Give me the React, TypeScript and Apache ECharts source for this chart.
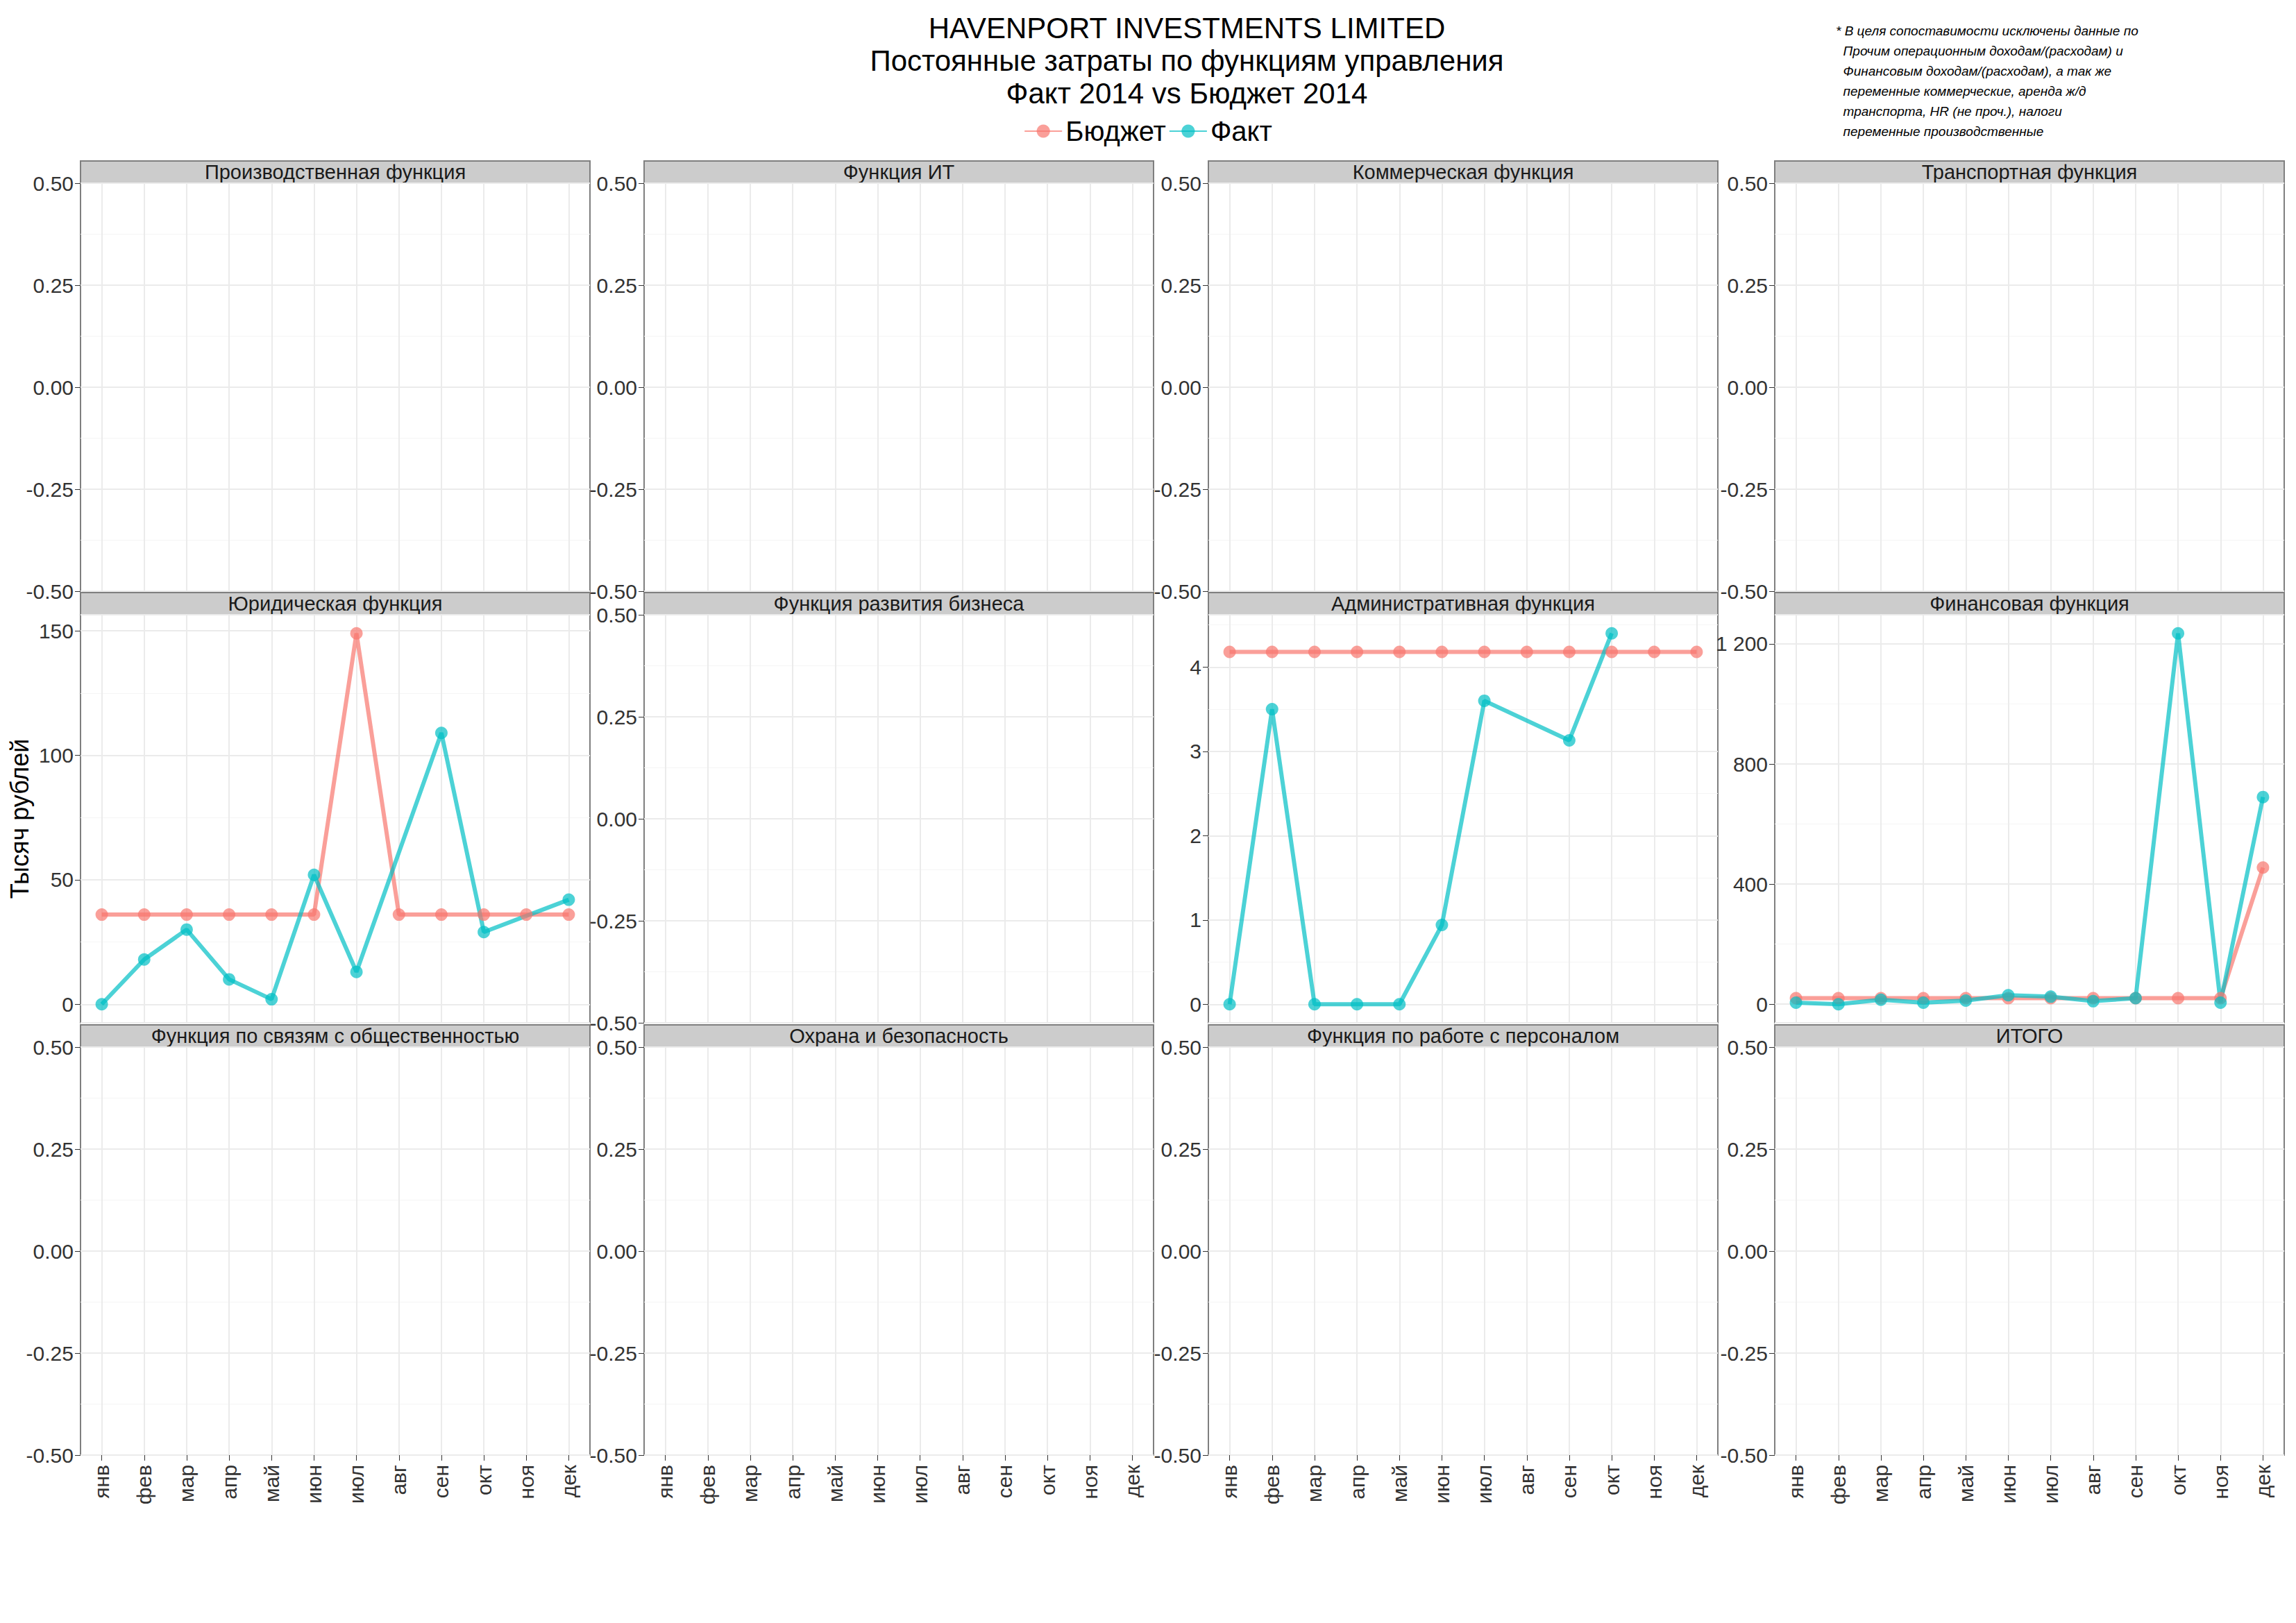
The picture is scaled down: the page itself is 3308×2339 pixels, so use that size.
import React, { useEffect, useRef } from 'react';
import * as echarts from 'echarts';

const months = ['янв', 'фев', 'мар', 'апр', 'май', 'июн', 'июл', 'авг', 'сен', 'окт', 'ноя', 'дек'];

const panelTitles = [
  'Производственная функция', 'Функция ИТ', 'Коммерческая функция', 'Транспортная функция',
  'Юридическая функция', 'Функция развития бизнеса', 'Административная функция', 'Финансовая функция',
  'Функция по связям с общественностью', 'Охрана и безопасность', 'Функция по работе с персоналом', 'ИТОГО',
];

// '-' = нет данных за месяц
const legalBudget = [36, 36, 36, 36, 36, 36, 149, 36, 36, 36, 36, 36];
const legalFact: (number | string)[] = [0, 18, 30, 10, 2, 52, 13, '-', 109, 29, '-', 42];
const adminBudget = [4.18, 4.18, 4.18, 4.18, 4.18, 4.18, 4.18, 4.18, 4.18, 4.18, 4.18, 4.18];
const adminFact: (number | string)[] = [0, 3.5, 0, 0, 0, 0.94, 3.6, '-', 3.13, 4.4, '-', '-'];
const financeBudget = [20, 20, 20, 20, 20, 20, 20, 20, 20, 20, 20, 455];
const financeFact = [5, 0, 15, 5, 12, 30, 25, 10, 20, 1235, 5, 690];

// индекс панели -> [бюджет, факт, min, max, шаг]
const panelData: Record<number, [any[], any[], number, number, number]> = {
  4: [legalBudget, legalFact, -7.45, 156.45, 50],
  6: [adminBudget, adminFact, -0.22, 4.62, 1],
  7: [financeBudget, financeFact, -62, 1297, 400],
};

const noteLines = [
  '* В целя сопоставимости исключены данные по',
  '  Прочим операционным доходам/(расходам) и',
  '  Финансовым доходам/(расходам), а так же',
  '  переменные коммерческие, аренда ж/д',
  '  транспорта, HR (не проч.), налоги',
  '  переменные производственные',
];

const budgetColor = '#F8766D';
const factColor = '#00BFC4';
const font = '"Liberation Sans", Arial, sans-serif';

const colLeft = [116, 928, 1741, 2557];
const rowTop = [264, 886, 1509];
const panelW = 734;
const panelH = 588;
const stripH = 32;

const App: React.FC = () => {
  const chartRef = useRef<HTMLDivElement>(null);

  useEffect(() => {
    document.body.style.margin = '0';
    if (!chartRef.current) return;
    const chart = echarts.init(chartRef.current, undefined, { renderer: 'svg' });

    const grid: any[] = [];
    const xAxis: any[] = [];
    const yAxis: any[] = [];
    const series: any[] = [];
    const graphic: any[] = [];

    panelTitles.forEach((name, i) => {
      const r = Math.floor(i / 4);
      const c = i % 4;
      const left = colLeft[c];
      const top = rowTop[r];
      grid.push({ left, top, width: panelW, height: panelH, show: true, borderColor: '#7f7f7f', borderWidth: 2, backgroundColor: '#fff' });
      xAxis.push({
        type: 'category', gridIndex: i, data: months, boundaryGap: true, position: 'bottom',
        axisLine: { show: false, onZero: false },
        axisTick: { show: r === 2, alignWithLabel: true, length: 8, lineStyle: { color: '#333' } },
        axisLabel: { show: r === 2, rotate: 90, fontSize: 30, color: '#333', fontFamily: font, margin: 14 },
        splitLine: { show: true, alignWithLabel: true, lineStyle: { color: '#ebebeb', width: 2 } },
      });
      const pd = panelData[i];
      const min = pd ? pd[2] : -0.5;
      const max = pd ? pd[3] : 0.5;
      const step = pd ? pd[4] : 0.25;
      yAxis.push({
        type: 'value', gridIndex: i, min, max,
        minInterval: step, maxInterval: step, splitNumber: 4,
        axisLine: { show: false },
        axisTick: { show: true, length: 8, lineStyle: { color: '#333' } },
        axisLabel: {
          fontSize: 30, color: '#333', fontFamily: font, margin: 10,
          showMinLabel: !pd, showMaxLabel: !pd,
          formatter: (v: number) => {
            if (!pd) return v.toFixed(2);
            if (step < 1) return String(v);
            return String(Math.round(v)).replace(/\B(?=(\d{3})+(?!\d))/g, ' ');
          },
        },
        splitLine: { show: true, lineStyle: { color: '#ebebeb', width: 2 } },
        minorTick: { show: false, splitNumber: 2 },
        minorSplitLine: { show: true, lineStyle: { color: '#f5f5f5', width: 1 } },
      });
      graphic.push({
        type: 'rect', shape: { x: left, y: top - stripH, width: panelW, height: stripH },
        style: { fill: '#cccccc', stroke: '#7f7f7f', lineWidth: 2 },
      });
      graphic.push({
        type: 'text', x: left + panelW / 2, y: top - stripH / 2,
        style: { text: name, fontSize: 29, fontFamily: font, fill: '#1a1a1a', align: 'center', verticalAlign: 'middle' },
      });
      if (pd) {
        const common = {
          type: 'line', xAxisIndex: i, yAxisIndex: i, symbol: 'circle', symbolSize: 18,
          connectNulls: true, z: 3,
        };
        series.push({
          ...common, name: 'Бюджет', data: pd[0],
          lineStyle: { color: budgetColor, width: 6, opacity: 0.7 },
          itemStyle: { color: budgetColor, opacity: 0.7 },
        });
        series.push({
          ...common, name: 'Факт', data: pd[1],
          lineStyle: { color: factColor, width: 6, opacity: 0.7 },
          itemStyle: { color: factColor, opacity: 0.7 },
        });
      }
    });

    graphic.push({
      type: 'text', x: 28, y: 1180, rotation: Math.PI / 2,
      style: { text: 'Тысяч рублей', fontSize: 36, fontFamily: font, fill: '#000', align: 'center', verticalAlign: 'middle' },
    });
    graphic.push({
      type: 'text', x: 2645, y: 30,
      style: {
        text: noteLines.join('\n'), fontSize: 19, lineHeight: 29, fontStyle: 'italic',
        fontFamily: font, fill: '#000', align: 'left', verticalAlign: 'top',
      },
    });

    chart.setOption({
      animation: false,
      backgroundColor: '#fff',
      title: {
        text: 'HAVENPORT INVESTMENTS LIMITED\nПостоянные затраты по функциям управления\nФакт 2014 vs Бюджет 2014',
        left: 1705, top: 12, textAlign: 'center',
        textStyle: { fontSize: 42, lineHeight: 47, fontWeight: 'normal', fontFamily: font, color: '#000' },
      },
      legend: {
        data: ['Бюджет', 'Факт'], left: 'center', top: 164, itemWidth: 54, itemHeight: 24, itemGap: 4,
        textStyle: { fontSize: 40, fontFamily: font, color: '#000' },
      },
      grid, xAxis, yAxis, series, graphic,
    });

    return () => chart.dispose();
  }, []);

  return <div ref={chartRef} style={{ width: 3308, height: 2339 }} />;
};

export default App;
